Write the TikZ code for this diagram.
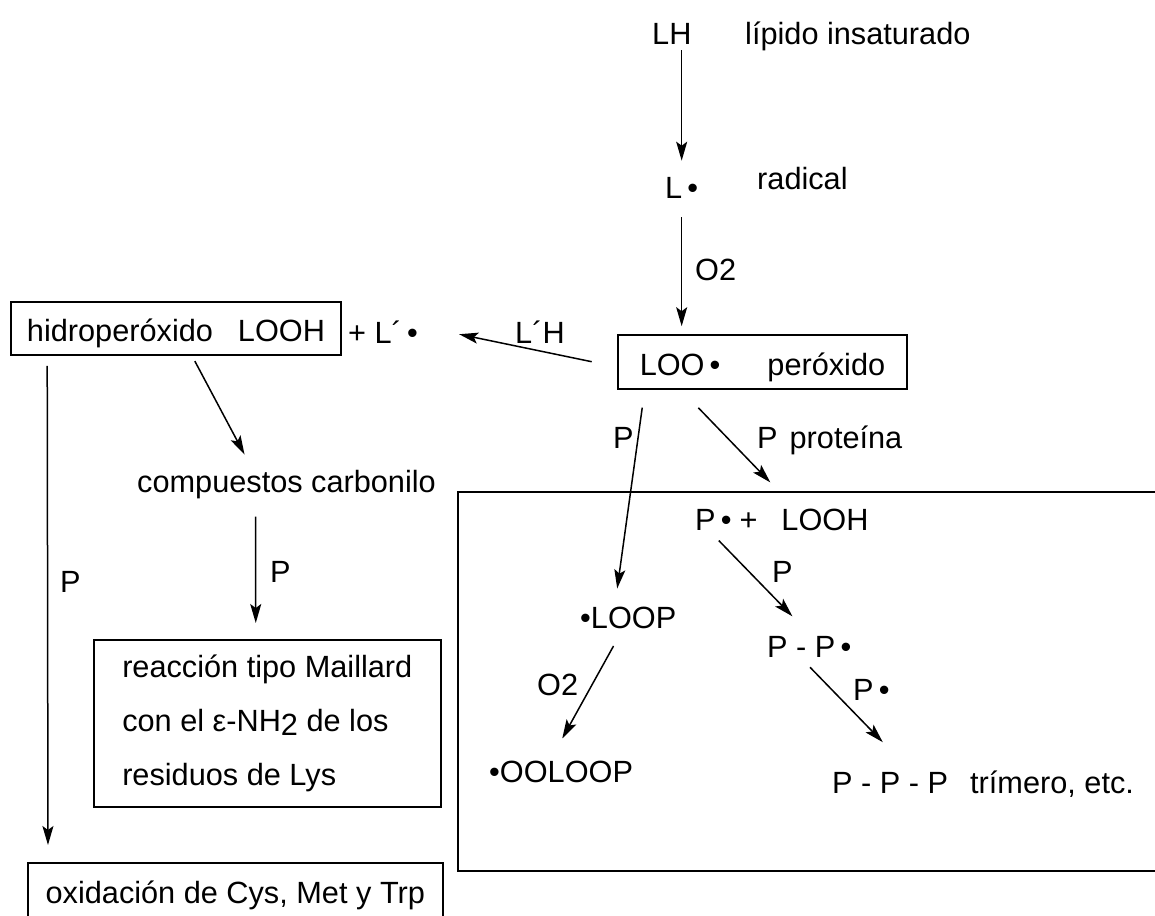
\documentclass[tikz,border=0pt]{standalone}
\usepackage{fontspec}
\setmainfont{Liberation Sans}
\usetikzlibrary{arrows.meta, positioning}

\tikzset{
  every node/.style={font=\fontsize{30.7}{54}\selectfont},
  txt/.style={anchor=base west, inner sep=0pt},
  box/.style={draw, line width=1.6pt},
  frame/.style={box, text height=26pt, text depth=0pt},
  arr/.style={-{Stealth[length=19pt,width=11pt,inset=4pt]}, line width=1.5pt}
}

\begin{document}
\begin{tikzpicture}[x=1pt, y=-1pt]
\useasboundingbox (0,0) rectangle (1155,915);
\clip (0,0) rectangle (1155,915);

% lipid chain
\node[txt] (lh) at (652,45) {LH};
\node[txt] (lipid) at (745,45) {lípido insaturado};
\node[txt] (lrad) at (665,198) {L\,•};
\node[txt] (radical) at (757,189) {radical};
\node[txt] (otwo) at (695,280) {O2};
\node[frame, minimum width=289pt, minimum height=54pt] (loo) at (762.5,362) {LOO\,•\hspace{47pt}peróxido};

% hydroperoxide branch
\node[txt] (lhprime) at (515,343) {L´H};
\node[txt] (lprime) at (348,343) {+ L´\,•};
\node[frame, minimum width=330pt, minimum height=53pt] (hidro) at (176,328.5) {hidroperóxido\hspace{25pt}LOOH};
\node[txt] (pleft) at (60,592) {P};
\node[txt] (carbonyl) at (137,492) {compuestos carbonilo};
\node[txt] (pmid) at (270,582) {P};
\node[box, anchor=north west, align=left, minimum width=347pt, minimum height=167pt] (maillard) at (93,639)
  {reacción tipo Maillard\\con el ε-NH\raisebox{-4pt}{2} de los\\residuos de Lys};
\node[frame, anchor=north west, minimum width=415pt, minimum height=56pt] (oxid) at (27,862) {oxidación de Cys, Met y Trp};

% protein branch
\node[txt] (plabel) at (613,448) {P};
\node[txt] (prot) at (757,448) {P\hspace{12pt}proteína};
\node[box, anchor=north west, minimum width=720pt, minimum height=379pt] (pbox) at (457,491) {};
\node[txt] (pradlooh) at (695,530) {P\,•\hspace{8pt}+\hspace{24pt}LOOH};
\node[txt] (pone) at (772,582) {P};
\node[txt] (loop) at (580,628) {•LOOP};
\node[txt] (otwob) at (537,695) {O2};
\node[txt] (ooloop) at (489,782) {•OOLOOP};
\node[txt] (ppdot) at (767,657) {P - P\,•};
\node[txt] (pdot) at (853,700) {P\,•};
\node[txt] (ppp) at (832,793) {P - P - P\hspace{22pt}trímero, etc.};

% arrows
\draw[arr, shorten <=5pt, shorten >=16pt] (lh.south -| lrad.north) -- (lrad.north);
\draw[arr, shorten <=19pt, shorten >=8pt] (lrad.south) -- (lrad.south |- loo.north);
\draw[arr, shorten <=26pt, shorten >=42pt] ([yshift=-5pt]loo.west) -- ([yshift=6pt]lprime.east);
\draw[arr, shorten <=6pt, shorten >=17pt] ([xshift=16pt]hidro.south) -- ([xshift=-34pt]carbonyl.north);
\draw[arr, shorten <=18pt, shorten >=16pt] ([xshift=-31pt]carbonyl.south) -- ([xshift=-11.5pt]maillard.north);
\draw[arr, shorten <=10pt, shorten >=17pt] ([xshift=37pt]hidro.south west) -- ([xshift=21pt]oxid.north west);
\draw[arr, shorten <=18pt, shorten >=18pt] ([xshift=27.5pt]loo.south west) -- ([xshift=-13.5pt]loop.north);
\draw[arr, shorten <=25pt, shorten >=36pt] ([xshift=-81.5pt]loo.south) -- ([xshift=13.5pt]pradlooh.north);
\draw[arr, shorten <=14pt, shorten >=27pt] ([xshift=14pt]pradlooh.south west) -- ([xshift=2pt]ppdot.north);
\draw[arr, shorten <=20pt, shorten >=25pt] ([xshift=-5pt]loop.south) -- ([xshift=-11pt]ooloop.north);
\draw[arr, shorten <=14pt, shorten >=39pt] ([xshift=-9pt]ppdot.south) -- ([xshift=78pt]ppp.north west);
\end{tikzpicture}
\end{document}
